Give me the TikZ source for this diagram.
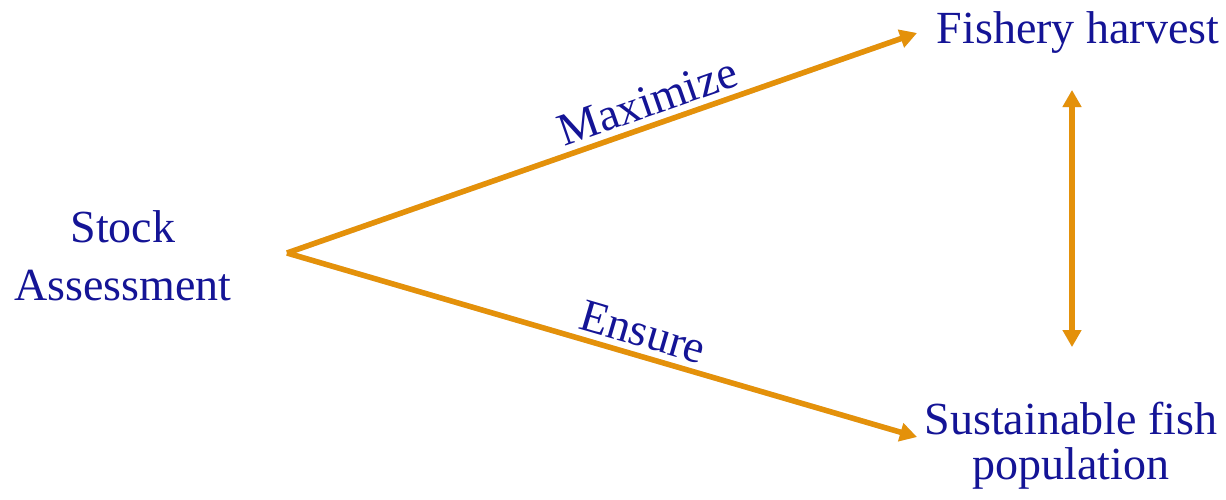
\documentclass[tikz,border=0pt]{standalone}
\usepackage{fontspec}
\setmainfont{Liberation Serif}
\usetikzlibrary{arrows.meta}
\definecolor{arrowor}{RGB}{228,145,10}
\definecolor{inkblue}{RGB}{20,20,150}
\begin{document}
\begin{tikzpicture}[x=1pt,y=-1pt,
  lbl/.style={text=inkblue,inner sep=0pt,font=\fontsize{46}{58}\selectfont},
  tip/.style={Triangle[length=17pt,width=18pt]},
  shadowline/.style={draw=black!35,line width=5.5pt,opacity=0.35,-{Triangle[length=17pt,width=18pt]},shift={(2,2)}},
  link/.style={draw=arrowor,line width=5.5pt,-{Triangle[length=17pt,width=18pt]}},
  dlink/.style={draw=arrowor,line width=5.5pt,{Triangle[length=17pt,width=18pt]}-{Triangle[length=17pt,width=18pt]}}]
\useasboundingbox (0,0) rectangle (1226,499);

% text blocks
\node[lbl,align=center] (stock) at (123,256) {Stock\\Assessment};
\node[lbl,anchor=base] (harvest) at (1078,43) {Fishery harvest};
\node[lbl,align=center,font=\fontsize{46}{45}\selectfont] (pop) at (1071,446) {Sustainable fish\\population};

% arrow end points
\coordinate (apex) at (287,253);
\coordinate (tipup) at (917,33);
\coordinate (tipdown) at (917,437);
\coordinate (vtop) at (1072,90);
\coordinate (vbot) at (1072,347);

% soft shadows under the arrows
\draw[shadowline] (apex) -- (tipup);
\draw[shadowline] (apex) -- (tipdown);
\draw[shadowline,{Triangle[length=17pt,width=18pt]}-{Triangle[length=17pt,width=18pt]}] (vtop) -- (vbot);

% arrows
\draw[link] (apex) -- node[lbl,pos=0.585,sloped,above=6pt] (maxi) {Maximize} (tipup);
\draw[link] (apex) -- node[lbl,pos=0.555,sloped,above=6pt] (ens) {Ensure} (tipdown);
\draw[dlink] (vtop) -- (vbot);
\end{tikzpicture}
\end{document}
